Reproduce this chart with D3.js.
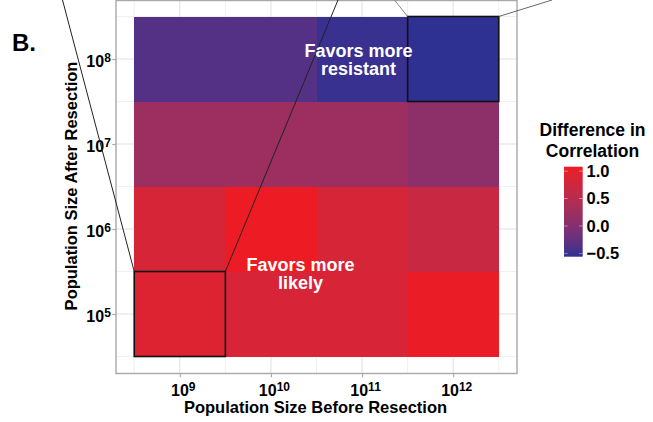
<!DOCTYPE html>
<html>
<head>
<meta charset="utf-8">
<script src="https://cdn.jsdelivr.net/npm/d3@7"></script>
<style>
  html, body { margin: 0; padding: 0; background: #fff; }
  svg text { font-family: "Liberation Sans", Arial, sans-serif; font-weight: bold; }
</style>
</head>
<body>
<svg id="chart" width="653" height="422"></svg>
<script>
// Population sizes (cells) before and after resection
const sizesBefore = [1e9, 1e10, 1e11, 1e12];
const sizesAfter = [1e5, 1e6, 1e7, 1e8];

// Difference in correlation, one row per post-resection size (rows follow sizesAfter)
const diffAfter1e5 = [0.88, 0.82, 0.82, 1.01];
const diffAfter1e6 = [0.81, 1.04, 0.81, 0.67];
const diffAfter1e7 = [0.23, 0.23, 0.23, 0.10];
const diffAfter1e8 = [-0.33, -0.33, -0.48, -0.52];
const diffRows = [diffAfter1e5, diffAfter1e6, diffAfter1e7, diffAfter1e8];

const legendBreaks = [-0.5, 0.0, 0.5, 1.0];

// Cells that are highlighted with an outline
const highlighted = [
  { before: 1e9, after: 1e5 },
  { before: 1e12, after: 1e8 }
];

const cells = [];
sizesAfter.forEach((a, i) => {
  sizesBefore.forEach((b, j) => {
    cells.push({ before: b, after: a, value: diffRows[i][j] });
  });
});

const svg = d3.select("#chart");
svg.append("rect").attr("width", 653).attr("height", 422).attr("fill", "#fff");

// Panel geometry
const pLeft = 116, pRight = 517, pTop = 0, pBottom = 373.5;
const halfDecade = Math.sqrt(10);

const x = d3.scaleLog().domain([10 ** 8.3, 10 ** 12.7]).range([pLeft, pRight]);
const y = d3.scaleLog().domain([10 ** 4.3, 10 ** 8.7]).range([pBottom, pTop - 0.5]);

const vMin = d3.min(cells, d => d.value), vMax = d3.max(cells, d => d.value);
const color = d3.scaleLinear().domain([vMin, vMax])
  .range(["#2E3192", "#ED1C24"]).interpolate(d3.interpolateLab);

const panel = svg.append("g");
panel.append("rect").attr("x", pLeft).attr("y", pTop).attr("width", pRight - pLeft)
  .attr("height", pBottom - pTop).attr("fill", "#fff");

// Grid: minor lines at half decades, major lines at decades
const xMinor = [10 ** 8.5, 10 ** 9.5, 10 ** 10.5, 10 ** 11.5, 10 ** 12.5];
const yMinor = [10 ** 4.5, 10 ** 5.5, 10 ** 6.5, 10 ** 7.5, 10 ** 8.5];
panel.selectAll("line.xminor").data(xMinor).join("line")
  .attr("x1", d => x(d)).attr("x2", d => x(d)).attr("y1", pTop).attr("y2", pBottom)
  .attr("stroke", "#ececec").attr("stroke-width", 0.8);
panel.selectAll("line.yminor").data(yMinor).join("line")
  .attr("y1", d => y(d)).attr("y2", d => y(d)).attr("x1", pLeft).attr("x2", pRight)
  .attr("stroke", "#ececec").attr("stroke-width", 0.8);
panel.selectAll("line.xmajor").data(sizesBefore).join("line")
  .attr("x1", d => x(d)).attr("x2", d => x(d)).attr("y1", pTop).attr("y2", pBottom)
  .attr("stroke", "#e2e2e2").attr("stroke-width", 1.1);
panel.selectAll("line.ymajor").data(sizesAfter).join("line")
  .attr("y1", d => y(d)).attr("y2", d => y(d)).attr("x1", pLeft).attr("x2", pRight)
  .attr("stroke", "#e2e2e2").attr("stroke-width", 1.1);

// Heatmap tiles, one decade wide and tall
panel.selectAll("rect.tile").data(cells).join("rect")
  .attr("class", "tile")
  .attr("x", d => x(d.before / halfDecade))
  .attr("y", d => y(d.after * halfDecade))
  .attr("width", d => x(d.before * halfDecade) - x(d.before / halfDecade))
  .attr("height", d => y(d.after / halfDecade) - y(d.after * halfDecade))
  .attr("fill", d => color(d.value))
  .attr("shape-rendering", "crispEdges");

// Panel border
panel.append("rect").attr("x", pLeft).attr("y", pTop + 0.5).attr("width", pRight - pLeft)
  .attr("height", pBottom - pTop - 0.5).attr("fill", "none")
  .attr("stroke", "#a8a8a8").attr("stroke-width", 1.4);

// Axes with powers-of-ten labels
function powerLabel(sel) {
  sel.each(function (d) {
    const t = d3.select(this);
    const exp = Math.round(Math.log10(d));
    t.text(null);
    t.append("tspan").text("10");
    t.append("tspan").attr("font-size", "12px").attr("dy", "-5").text(exp);
  });
}

const xAxis = svg.append("g").attr("transform", `translate(0,${pBottom})`)
  .call(d3.axisBottom(x).tickValues(sizesBefore).tickSize(3.7).tickPadding(2).tickFormat(d => d));
xAxis.select(".domain").remove();
xAxis.selectAll(".tick line").attr("stroke", "#a8a8a8").attr("stroke-width", 1.1);
xAxis.selectAll(".tick text")
  .attr("y", 22.5).attr("dy", null).attr("dx", "3")
  .attr("font-size", "16px").attr("fill", "#000")
  .call(powerLabel);

const yAxis = svg.append("g").attr("transform", `translate(${pLeft},0)`)
  .call(d3.axisLeft(y).tickValues(sizesAfter).tickSize(3.7).tickPadding(1.5).tickFormat(d => d));
yAxis.select(".domain").remove();
yAxis.selectAll(".tick line").attr("stroke", "#a8a8a8").attr("stroke-width", 1.1);
yAxis.selectAll(".tick text")
  .attr("dy", "7.6").attr("font-size", "16px").attr("fill", "#000")
  .call(powerLabel);

// Axis titles
svg.append("text").attr("x", 315.5).attr("y", 413.3).attr("text-anchor", "middle")
  .attr("font-size", "16.5px").text("Population Size Before Resection");
svg.append("text").attr("transform", "translate(77.3,186) rotate(-90)")
  .attr("text-anchor", "middle").attr("font-size", "16.5px")
  .text("Population Size After Resection");

// Panel letter
svg.append("text").attr("x", 12).attr("y", 50.7).attr("font-size", "24px").text("B.");

// Highlighted cells and the zoom guide lines leaving the figure
highlighted.forEach(h => {
  const x0 = x(h.before / halfDecade), x1 = x(h.before * halfDecade);
  const y0 = y(h.after * halfDecade), y1 = y(h.after / halfDecade);
  svg.append("rect").attr("x", x0).attr("y", y0).attr("width", x1 - x0).attr("height", y1 - y0)
    .attr("fill", "none").attr("stroke", "#111").attr("stroke-width", 1.6);
});
const c1 = { x0: x(1e9 / halfDecade), x1: x(1e9 * halfDecade), y0: y(1e5 * halfDecade) };
const c2 = { x0: x(1e12 / halfDecade), x1: x(1e12 * halfDecade), y0: y(1e8 * halfDecade) };
const guides = [
  { x1: c1.x0, y1: c1.y0, x2: 62.5, y2: 0, stroke: "#222", w: 1 },
  { x1: c1.x1, y1: c1.y0, x2: 338, y2: 0, stroke: "#222", w: 1 },
  { x1: c2.x0, y1: c2.y0, x2: 394.5, y2: 0, stroke: "#777", w: 0.9 },
  { x1: c2.x1, y1: c2.y0, x2: 552, y2: 0, stroke: "#555", w: 0.9 }
];
svg.selectAll("line.guide").data(guides).join("line")
  .attr("x1", d => d.x1).attr("y1", d => d.y1).attr("x2", d => d.x2).attr("y2", d => d.y2)
  .attr("stroke", d => d.stroke).attr("stroke-width", d => d.w);

// In-panel annotations
const notes = [
  { x: 358.5, y: 56.7, lines: ["Favors more", "resistant"] },
  { x: 300.5, y: 271, lines: ["Favors more", "likely"] }
];
notes.forEach(n => {
  const t = svg.append("text").attr("text-anchor", "middle").attr("font-size", "18px").attr("fill", "#fff");
  n.lines.forEach((l, i) => t.append("tspan").attr("x", n.x).attr("y", n.y + i * 18.3).text(l));
});

// Colour bar legend
const barX = 564, barW = 18.7, barTop = 166.7, barH = 90;
const defs = svg.append("defs");
const grad = defs.append("linearGradient").attr("id", "cbar")
  .attr("x1", 0).attr("y1", 1).attr("x2", 0).attr("y2", 0);
d3.range(0, 1.0001, 0.05).forEach(t => {
  grad.append("stop").attr("offset", t).attr("stop-color", color(vMin + t * (vMax - vMin)));
});
const lg = svg.append("g");
lg.append("rect").attr("x", barX).attr("y", barTop).attr("width", barW).attr("height", barH)
  .attr("fill", "url(#cbar)");
const ly = d3.scaleLinear().domain([vMin, vMax])
  .range([barTop + barH * 0.975, barTop + barH * 0.025]);
lg.selectAll("line.tl").data(legendBreaks).join("line")
  .attr("x1", barX).attr("x2", barX + barW * 0.2).attr("y1", d => ly(d)).attr("y2", d => ly(d))
  .attr("stroke", "#fff").attr("stroke-width", 0.6).attr("opacity", 0.7);
lg.selectAll("line.tr").data(legendBreaks).join("line")
  .attr("x1", barX + barW * 0.8).attr("x2", barX + barW).attr("y1", d => ly(d)).attr("y2", d => ly(d))
  .attr("stroke", "#fff").attr("stroke-width", 0.6).attr("opacity", 0.7);
lg.selectAll("text.lab").data(legendBreaks).join("text")
  .attr("x", 586.5).attr("y", d => ly(d)).attr("dy", "0.36em")
  .attr("font-size", "16.5px")
  .text(d => d3.format(".1f")(d).replace("-", "\u2212"));
const lt = lg.append("text").attr("text-anchor", "middle").attr("font-size", "17.5px");
lt.append("tspan").attr("x", 592.5).attr("y", 135.7).text("Difference in");
lt.append("tspan").attr("x", 592.5).attr("y", 156.7).text("Correlation");
</script>
</body>
</html>
